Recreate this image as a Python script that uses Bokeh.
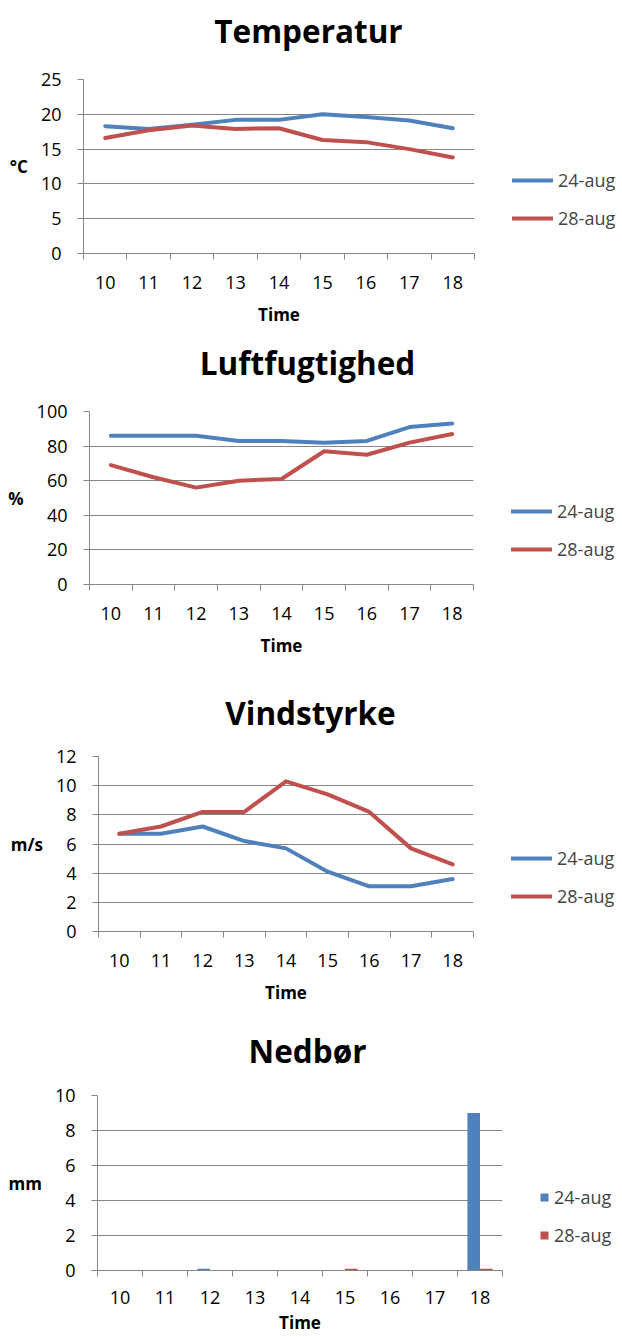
from bokeh.plotting import figure
from bokeh.models import (Range1d, LinearAxis, FixedTicker, Legend, LegendItem,
                          ColumnDataSource, SingleIntervalTicker, Label)
from bokeh.layouts import column
from bokeh.transform import dodge
from bokeh.embed import file_html
from bokeh.resources import INLINE

# ---------------- data ----------------
hours = ["10", "11", "12", "13", "14", "15", "16", "17", "18"]
series = ["24-aug", "28-aug"]
temp_24 = [18.3, 17.9, 18.5, 19.2, 19.2, 20.0, 19.6, 19.1, 18.0]
temp_28 = [16.6, 17.7, 18.4, 17.9, 18.0, 16.3, 16.0, 15.0, 13.8]
hum_24 = [86, 86, 86, 83, 83, 82, 83, 91, 93]
hum_28 = [69, 62, 56, 60, 61, 77, 75, 82, 87]
wind_24 = [6.7, 6.7, 7.2, 6.2, 5.7, 4.1, 3.1, 3.1, 3.6]
wind_28 = [6.7, 7.2, 8.2, 8.2, 10.3, 9.4, 8.2, 5.7, 4.6]
rain_24 = [0, 0, 0.1, 0, 0, 0, 0, 0, 9.0]
rain_28 = [0, 0, 0, 0, 0, 0.1, 0, 0, 0.1]

BLUE = "#4F81BD"
RED = "#C0504D"
GRID = "#868686"
FONT = "Open Sans"
TOTAL_W = 622

# category slot centres on a numeric axis (slot i spans i..i+1)
n = len(hours)
xpos = [i + 0.5 for i in range(n)]


def header(title, h, cx, cy):
    """Strip holding the chart title (frame covers the whole strip)."""
    p = figure(x_range=Range1d(0, 1), y_range=Range1d(0, 1),
               frame_width=TOTAL_W, frame_height=h, min_border=0,
               x_axis_location=None, y_axis_location=None,
               output_backend="svg", toolbar_location=None, title=None)
    p.frame_align = False
    p.outline_line_color = None
    p.grid.visible = False
    p.background_fill_color = "white"
    p.border_fill_color = "white"
    p.add_layout(Label(x=cx, y=h - cy, x_units="screen", y_units="screen",
                       text=title, text_align="center", text_baseline="middle",
                       text_font=FONT, text_font_size="31.5px", text_font_style="bold",
                       text_color="black"))
    return p


def base_fig(ylabel, ymax, yint, g):
    fw = g["right_px"] - g["left"]
    fh = g["fh"]
    p = figure(x_range=Range1d(0, n), y_range=Range1d(0, ymax),
               frame_width=fw, frame_height=fh,
               min_border_left=g["left"], min_border_right=TOTAL_W - g["right_px"],
               min_border_top=g["top"], min_border_bottom=g["bottom"],
               x_axis_location=None, y_axis_location=None,
               output_backend="svg", toolbar_location=None, title=None)
    p.frame_align = False
    p.outline_line_color = None
    p.background_fill_color = "white"
    p.border_fill_color = "white"
    p.xgrid.grid_line_color = None

    ya = LinearAxis(ticker=SingleIntervalTicker(interval=yint, num_minor_ticks=0))
    ya.axis_line_color = GRID
    ya.major_tick_line_color = GRID
    ya.major_tick_out = 6
    ya.major_tick_in = 0
    ya.minor_tick_line_color = None
    ya.major_label_text_font = FONT
    ya.major_label_text_font_size = "18px"
    ya.major_label_text_color = "black"
    ya.major_label_standoff = 16
    ya.axis_label = ylabel
    ya.axis_label_orientation = "horizontal"
    ya.axis_label_text_font = FONT
    ya.axis_label_text_font_size = "17px"
    ya.axis_label_text_font_style = "bold"
    ya.axis_label_text_color = "black"
    ya.axis_label_standoff = 10
    p.add_layout(ya, "left")

    bounds = list(range(n + 1))
    xa = LinearAxis(ticker=FixedTicker(ticks=xpos, minor_ticks=bounds))
    xa.major_label_overrides = {c: h for c, h in zip(xpos, hours)}
    xa.axis_line_color = GRID
    xa.major_tick_line_color = None
    xa.major_tick_out = 0
    xa.major_tick_in = 0
    xa.minor_tick_line_color = GRID
    xa.minor_tick_out = 6
    xa.minor_tick_in = 0
    xa.major_label_text_font = FONT
    xa.major_label_text_font_size = "18px"
    xa.major_label_text_color = "black"
    xa.major_label_standoff = g["ls"]
    xa.axis_label = "Time"
    xa.axis_label_text_font = FONT
    xa.axis_label_text_font_size = "17px"
    xa.axis_label_text_font_style = "bold"
    xa.axis_label_text_color = "black"
    xa.axis_label_standoff = g["xs"]
    p.add_layout(xa, "below")

    p.ygrid.grid_line_color = GRID
    p.ygrid.grid_line_width = 1
    return p


def add_legend(p, items, gw, loc):
    lg = Legend(items=items, location=loc, orientation="vertical",
                glyph_width=gw, glyph_height=10, label_height=10, spacing=14,
                padding=0, margin=0, label_standoff=5,
                border_line_color=None, background_fill_alpha=0,
                label_text_font=FONT, label_text_font_size="18px")
    p.add_layout(lg, "right")


def line_chart(ylabel, ymax, yint, s24, s28, g):
    p = base_fig(ylabel, ymax, yint, g)
    src = ColumnDataSource(dict(x=xpos, hour=hours, a=s24, b=s28))
    r1 = p.line("x", "a", source=src, line_color=BLUE, line_width=4, line_join="round", line_cap="round")
    r2 = p.line("x", "b", source=src, line_color=RED, line_width=4, line_join="round", line_cap="round")
    add_legend(p, [LegendItem(label=series[0], renderers=[r1]),
                   LegendItem(label=series[1], renderers=[r2])], 41, (38, 23))
    return p


# layout geometry in pixels
g1 = dict(left=83, right_px=474, top=19, fh=174, bottom=75, ls=16, xs=11)
g2 = dict(left=89, right_px=473, top=21, fh=173, bottom=75, ls=16, xs=11)
g3 = dict(left=98, right_px=473, top=20, fh=175, bottom=75, ls=16, xs=11)
g4 = dict(left=97, right_px=502, top=19, fh=175, bottom=67, ls=14, xs=4)

h1 = header("Temperatur", 60, 308, 30)
p1 = line_chart("°C", 25, 5, temp_24, temp_28, g1)
h2 = header("Luftfugtighed", 62, 307, 34)
p2 = line_chart("%", 100, 20, hum_24, hum_28, g2)
h3 = header("Vindstyrke", 77, 310, 53)
p3 = line_chart("m/s", 12, 2, wind_24, wind_28, g3)
h4 = header("Nedbør", 70, 307, 44)

p4 = base_fig("mm", 10, 2, g4)
src4 = ColumnDataSource(dict(x=xpos, hour=hours, a=rain_24, b=rain_28))
b1 = p4.vbar(x=dodge("x", -0.14), top="a", width=0.28, source=src4,
             fill_color=BLUE, line_color=None)
b2 = p4.vbar(x=dodge("x", 0.14), top="b", width=0.28, source=src4,
             fill_color=RED, line_color=None)
add_legend(p4, [LegendItem(label=series[0], renderers=[b1]),
                LegendItem(label=series[1], renderers=[b2])], 10, (37, 23))

layout = column(h1, p1, h2, p2, h3, p3, h4, p4, spacing=0)
open("out.html", "w").write(file_html(layout, INLINE))
